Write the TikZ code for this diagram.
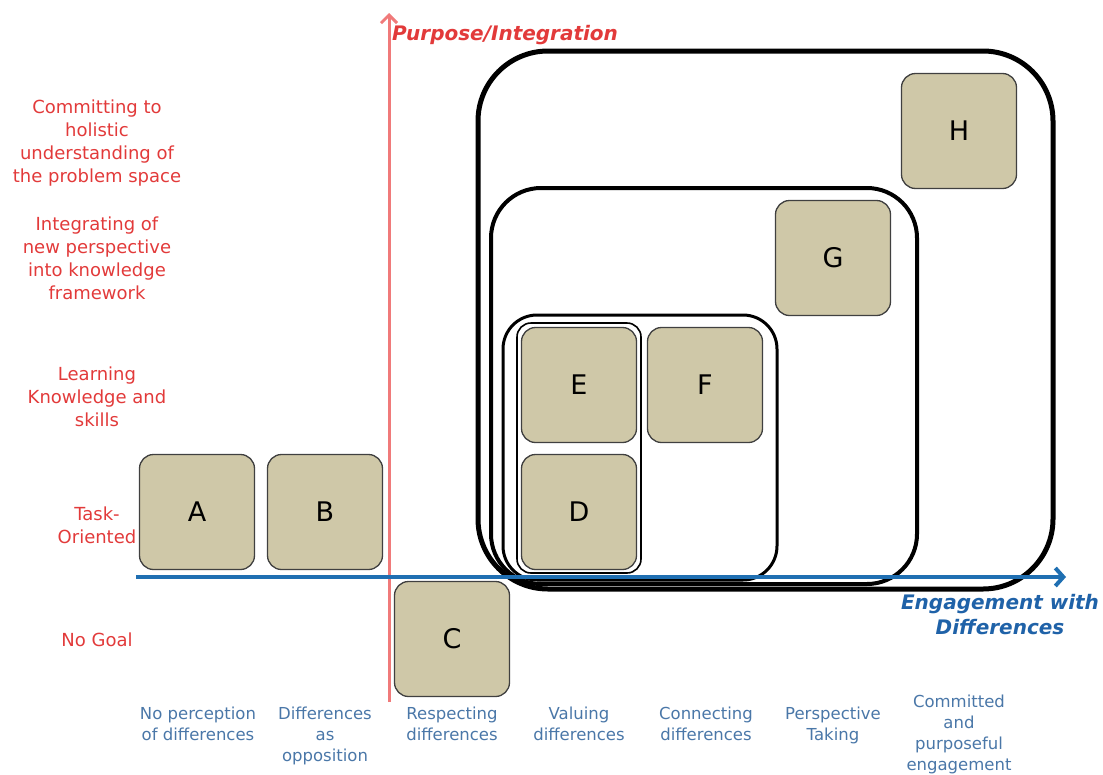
\documentclass[tikz,border=0pt]{standalone}
\usepackage{fontspec}
\setmainfont{DejaVu Sans}
\usetikzlibrary{arrows.meta}
\definecolor{purpRed}{HTML}{E23A3A}
\definecolor{purpAxis}{HTML}{F07A7A}
\definecolor{engBlue}{HTML}{1F62A8}
\definecolor{engAxis}{HTML}{1F6FB2}
\definecolor{engLabel}{HTML}{4A77A8}
\definecolor{boxTan}{HTML}{CFC8A8}

\begin{document}
\begin{tikzpicture}[x=1pt, y=-1pt,
      lvl/.style={rounded corners=14pt, draw=black!75, line width=1.3pt, fill=boxTan,
                  minimum width=115pt, minimum height=115pt,
                  font=\fontsize{27}{30}\selectfont},
      grp/.style={draw=black, rounded corners=#1},
      ylab/.style={text=purpRed, align=center, font=\fontsize{18}{23}\selectfont},
      xlab/.style={text=engLabel, align=center, anchor=north,
                   font=\fontsize{16.5}{21}\selectfont},
      every node/.style={inner sep=0pt}]
    \useasboundingbox (0,0) rectangle (1103,774);

    % nested groups
    \draw[grp=70pt, line width=5pt]   (478,51)  rectangle (1053,589);
    \draw[grp=50pt, line width=4pt]   (491,188) rectangle (917,584);
    \draw[grp=34pt, line width=3pt]   (503,315) rectangle (777,580);
    \draw[grp=14pt, line width=1.6pt] (517,323) rectangle (641,573);

    % levels
    \node[lvl] (a) at (197,512) {A};
    \node[lvl] (b) at (325,512) {B};
    \node[lvl] (c) at (452,639) {C};
    \node[lvl] (d) at (579,512) {D};
    \node[lvl] (e) at (579,385) {E};
    \node[lvl] (f) at (705,385) {F};
    \node[lvl] (g) at (833,258) {G};
    \node[lvl] (h) at (959,131) {H};

    % axes
    \coordinate (yBase) at (389,702);
    \coordinate (yTip)  at (389,13);
    \coordinate (xBase) at (136,577);
    \coordinate (xTip)  at (1066,577);
    \draw[purpAxis, line width=3pt, -{Straight Barb[length=8pt,width=16pt]}] (yBase) -- (yTip);
    \draw[engAxis, line width=4pt, -{Straight Barb[length=8pt,width=18pt]}] (xBase) -- (xTip);

    \node[anchor=west, text=purpRed, font=\bfseries\itshape\fontsize{20}{24}\selectfont]
      (purp) at (392,35) {Purpose/Integration};
    \node[align=center, text=engBlue, font=\bfseries\itshape\fontsize{20}{25}\selectfont]
      (eng) at (1000,615) {Engagement with\\Differences};

    % purpose levels
    \node[ylab] (p5) at (97,143) {Committing to\\holistic\\understanding of\\the problem space};
    \node[ylab] (p4) at (97,258) {Integrating of\\new perspective\\into knowledge\\framework};
    \node[ylab] (p3) at (97,397) {Learning\\Knowledge and\\skills};
    \node[ylab] (p2) at (97,525) {Task-\\Oriented};
    \node[ylab] (p1) at (97,640) {No Goal};

    % engagement levels
    \node[xlab] (e1) at (198,707) {No perception\\of differences};
    \node[xlab] (e2) at (325,707) {Differences\\as\\opposition};
    \node[xlab] (e3) at (452,707) {Respecting\\differences};
    \node[xlab] (e4) at (579,707) {Valuing\\differences};
    \node[xlab] (e5) at (706,707) {Connecting\\differences};
    \node[xlab] (e6) at (833,707) {Perspective\\Taking};
    \node[xlab] (e7) at (959,695) {Committed\\and\\purposeful\\engagement};
  \end{tikzpicture}
\end{document}
